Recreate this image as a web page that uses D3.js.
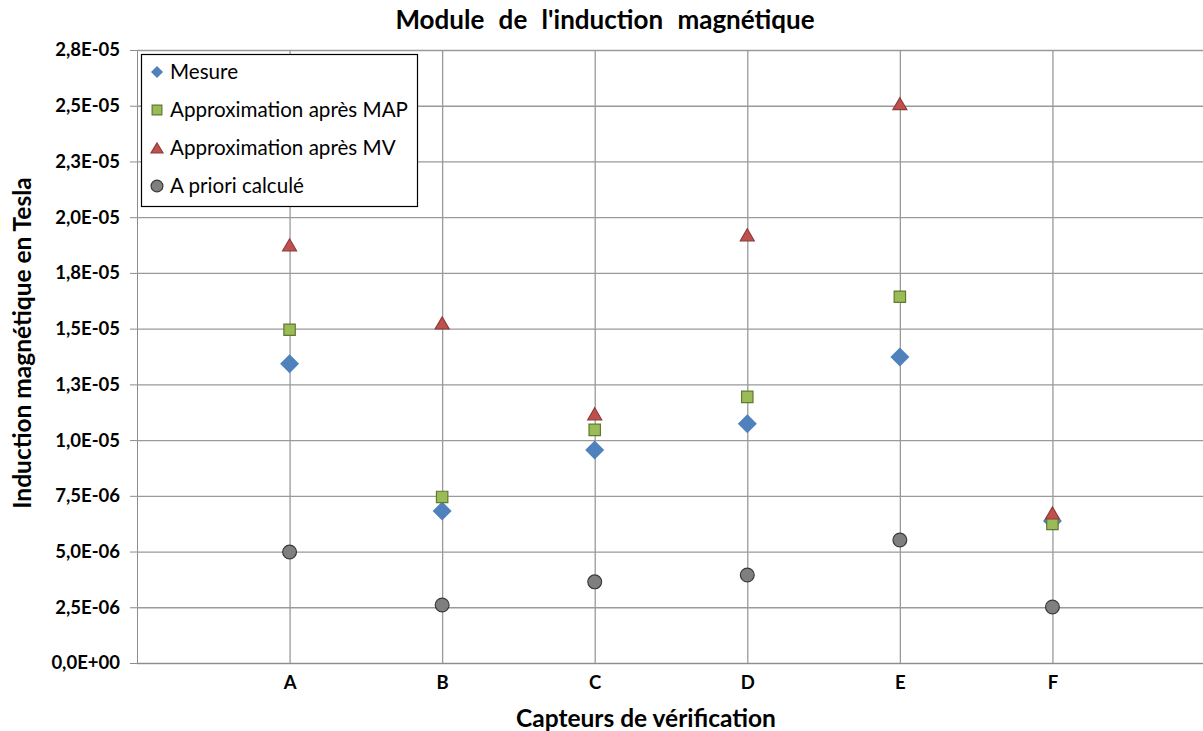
<!DOCTYPE html>
<html>
<head>
<meta charset="utf-8">
<script src="https://cdn.jsdelivr.net/npm/d3@7"></script>
<style>
  html, body { margin: 0; padding: 0; background: #fff; }
  svg { display: block; }
</style>
</head>
<body>
<svg id="chart" width="1203" height="731"></svg>
<script>
const categories = ["A", "B", "C", "D", "E", "F"];
const mesure = [1.342e-5, 6.82e-6, 9.56e-6, 1.073e-5, 1.373e-5, 6.37e-6];
const approxMAP = [1.495e-5, 7.45e-6, 1.046e-5, 1.194e-5, 1.643e-5, 6.24e-6];
const approxMV = [1.876e-5, 1.526e-5, 1.118e-5, 1.921e-5, 2.509e-5, 6.73e-6];
const aPriori = [4.98e-6, 2.60e-6, 3.64e-6, 3.95e-6, 5.52e-6, 2.51e-6];
const yTickValues = [0, 2.5e-6, 5e-6, 7.5e-6, 1e-5, 1.25e-5, 1.5e-5, 1.75e-5, 2e-5, 2.25e-5, 2.5e-5, 2.75e-5];
const yTickLabels = ["0,0E+00", "2,5E-06", "5,0E-06", "7,5E-06", "1,0E-05", "1,3E-05", "1,5E-05", "1,8E-05", "2,0E-05", "2,3E-05", "2,5E-05", "2,8E-05"];
const seriesNames = ["Mesure", "Approximation après MAP", "Approximation après MV", "A priori calculé"];

(function () {
const FONT = "Lato, 'Open Sans', sans-serif";
const svg = d3.select("#chart");
const pLeft = 137, pTop = 50, pBottom = 663, pRight = 1205;

const x = d3.scaleLinear().domain([0, categories.length + 1]).range([pLeft, pRight]);
const y = d3.scaleLinear().domain([0, 2.75e-5]).range([pBottom, pTop]);

// horizontal gridlines + axis
const yAxis = d3.axisLeft(y).tickValues(yTickValues)
  .tickFormat((d, i) => yTickLabels[i]).tickSize(7).tickPadding(10);
const gy = svg.append("g").attr("transform", `translate(${pLeft},0)`).call(yAxis);
gy.select(".domain").attr("stroke", "#8c8c8c").attr("d", `M0.5,${pTop}V${pBottom}`);
gy.selectAll(".tick line").attr("stroke", "#8c8c8c").attr("x1", -7).attr("x2", 0);
gy.selectAll(".tick text").attr("font-family", FONT).attr("font-weight", "bold")
  .attr("font-size", 18.5).attr("fill", "#000");
gy.selectAll(".tick").append("line")
  .attr("x1", 0).attr("x2", 1203 - pLeft).attr("stroke", "#9a9a9a").attr("stroke-width", 1.3);

// vertical gridlines via category axis
const xAxis = d3.axisBottom(x).tickValues(categories.map((c, i) => i + 1))
  .tickFormat((d) => categories[d - 1]).tickSize(0).tickPadding(13);
const gx = svg.append("g").attr("transform", `translate(0,${pBottom})`).call(xAxis);
gx.select(".domain").attr("stroke", "#8c8c8c").attr("d", `M${pLeft},0.5H1203`);
gx.selectAll(".tick text").attr("font-family", FONT).attr("font-weight", "bold")
  .attr("font-size", 18.5).attr("fill", "#000");
gx.selectAll(".tick").append("line")
  .attr("y1", 0).attr("y2", pTop - pBottom).attr("stroke", "#9a9a9a").attr("stroke-width", 1.3);

function diamondPath(s) { return `M0,${-s}L${s},0L0,${s}L${-s},0Z`; }
function trianglePath(w, h) { return `M0,${-h / 2}L${w / 2},${h / 2}L${-w / 2},${h / 2}Z`; }
const symbols = [
  { data: mesure, path: diamondPath(9.5), fill: "#4F81BD", stroke: "none" },
  { data: approxMAP, path: d3.symbol().type(d3.symbolSquare).size(130)(), fill: "#9BBB59", stroke: "#5E7A2E" },
  { data: approxMV, path: trianglePath(14, 12), fill: "#C0504D", stroke: "#8E3B38" },
  { data: aPriori, path: d3.symbol().type(d3.symbolCircle).size(150)(), fill: "#7F7F7F", stroke: "#3a3a3a" }
];

symbols.forEach((s) => {
  svg.append("g").selectAll("path").data(s.data).join("path")
    .attr("d", s.path)
    .attr("transform", (d, i) => `translate(${x(i + 1)},${y(d)})`)
    .attr("fill", s.fill).attr("stroke", s.stroke).attr("stroke-width", 1.2);
});

// legend
const lg = svg.append("g");
lg.append("rect").attr("x", 141.5).attr("y", 54.5).attr("width", 276).attr("height", 152)
  .attr("fill", "#fff").attr("stroke", "#000").attr("stroke-width", 1.2);
const legendMarkers = [
  diamondPath(6),
  d3.symbol().type(d3.symbolSquare).size(95)(),
  trianglePath(12, 10),
  d3.symbol().type(d3.symbolCircle).size(110)()
];
seriesNames.forEach((n, i) => {
  const cy = 72 + i * 38;
  lg.append("path").attr("d", legendMarkers[i])
    .attr("transform", `translate(157,${cy})`)
    .attr("fill", symbols[i].fill).attr("stroke", symbols[i].stroke).attr("stroke-width", 1.2);
  lg.append("text").attr("x", 170).attr("y", cy).attr("dy", "0.35em")
    .attr("font-family", FONT).attr("font-size", 20.6).attr("fill", "#000").text(n);
});

// titles
svg.append("text").attr("x", 605).attr("y", 29).attr("text-anchor", "middle")
  .attr("font-family", FONT).attr("font-weight", "bold").attr("font-size", 26)
  .attr("word-spacing", 8).text("Module de l'induction magnétique");
svg.append("text").attr("x", 646).attr("y", 727).attr("text-anchor", "middle")
  .attr("font-family", FONT).attr("font-weight", "bold").attr("font-size", 24.5)
  .text("Capteurs de vérification");
svg.append("text").attr("transform", "translate(31,343) rotate(-90)").attr("text-anchor", "middle")
  .attr("font-family", FONT).attr("font-weight", "bold").attr("font-size", 24.5)
  .text("Induction magnétique en Tesla");
})();
</script>
</body>
</html>
